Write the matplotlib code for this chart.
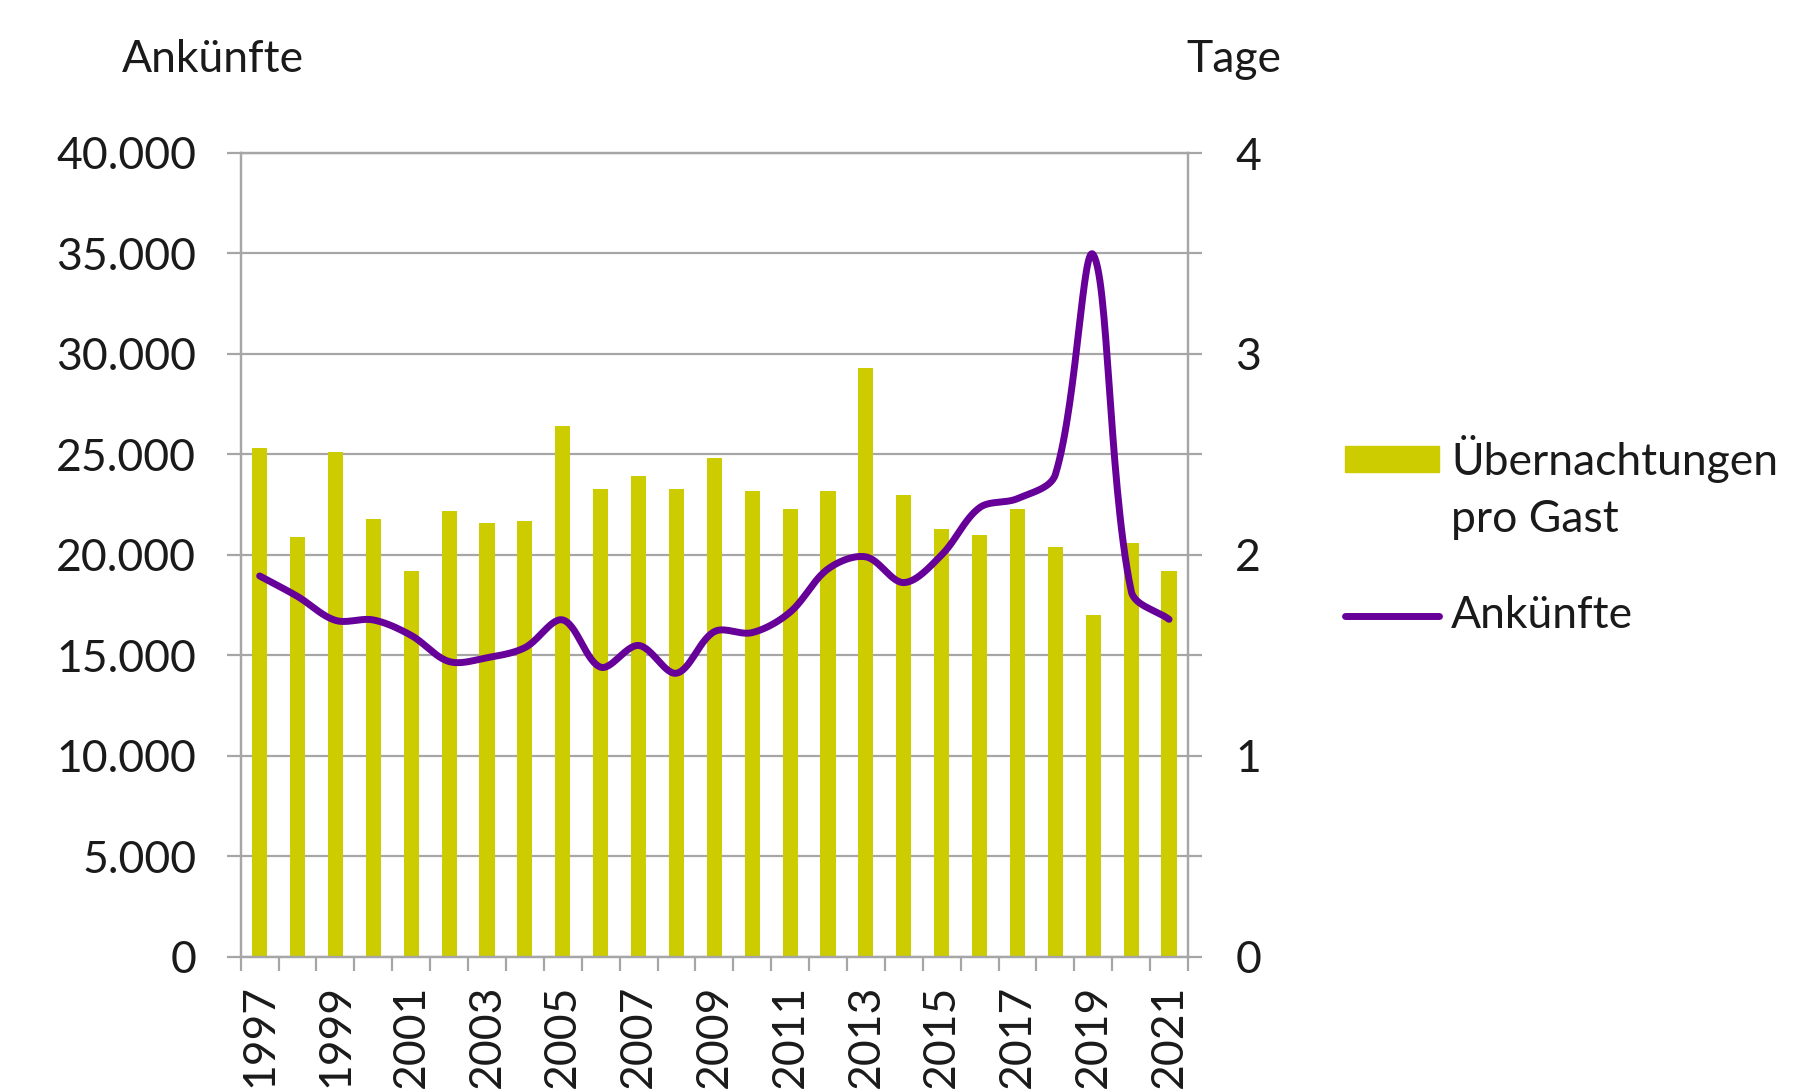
import numpy as np
import matplotlib.pyplot as plt
from matplotlib.patches import Rectangle
from matplotlib.lines import Line2D

plt.rcParams['font.family'] = ['Lato', 'DejaVu Sans']

years = list(range(1997, 2022))
naechte_pro_gast = [2.53, 2.09, 2.51, 2.18, 1.92, 2.22, 2.16, 2.17, 2.64, 2.33,
                    2.39, 2.33, 2.48, 2.32, 2.23, 2.32, 2.93, 2.30, 2.13, 2.10,
                    2.23, 2.04, 1.70, 2.06, 1.92]
ankuenfte = [18950, 17930, 16740, 16760, 15990, 14690, 14880, 15380, 16760, 14410,
             15490, 14110, 16180, 16130, 17150, 19300, 19900, 18620, 20000, 22350,
             22800, 24000, 34940, 18200, 16790]
left_ticks = [0, 5000, 10000, 15000, 20000, 25000, 30000, 35000, 40000]
left_labels = ['0', '5.000', '10.000', '15.000', '20.000', '25.000', '30.000', '35.000', '40.000']

BAR = '#CCCC00'
LINE = '#660099'
GRID = '#A6A6A6'
TXT = '#1a1a1a'
FS = 32


def smooth(x, y, sx, sy, n=30):
    # smoothed line like the office charts: bezier arms scaled by segment length
    pts = np.column_stack([x, y]).astype(float)
    sc = np.array([sx, sy])
    p = np.vstack([pts[0], pts, pts[-1]])
    t = np.linspace(0, 1, n, endpoint=False)[:, None]
    out = []
    for i in range(1, len(p) - 2):
        p0, p1, p2, p3 = p[i - 1], p[i], p[i + 1], p[i + 2]
        d01 = np.hypot(*((p1 - p0) * sc))
        d12 = np.hypot(*((p2 - p1) * sc))
        d23 = np.hypot(*((p3 - p2) * sc))
        f1 = d12 / (d01 + d12) / 3 if d01 + d12 > 0 else 0
        f2 = d12 / (d12 + d23) / 3 if d12 + d23 > 0 else 0
        c1 = p1 + (p2 - p0) * f1
        c2 = p2 - (p3 - p1) * f2
        out.append((1 - t)**3 * p1 + 3 * (1 - t)**2 * t * c1 + 3 * (1 - t) * t**2 * c2 + t**3 * p2)
    out.append(pts[-1:])
    return np.vstack(out)


W, H = 1795, 1092
fig = plt.figure(figsize=(W / 100, H / 100), dpi=100)
l, r, top, bot = 240.7, 1188, 153, 956.7
rect = [l / W, 1 - bot / H, (r - l) / W, (bot - top) / H]

ax = fig.add_axes(rect)
axr = ax.twinx()
ax.set_zorder(axr.get_zorder() + 1)
ax.patch.set_visible(False)

x = np.arange(len(years))
axr.bar(x, naechte_pro_gast, width=0.4, color=BAR, zorder=2)
axr.set_ylim(0, 4)
axr.set_yticks(np.arange(0, 4.01, 0.5))
axr.set_yticklabels(['0', '', '1', '', '2', '', '3', '', '4'])
axr.set_axisbelow(True)
axr.grid(axis='y', color=GRID, lw=1.6)

# pixel scale of one category and of one Ankunft, for the smoothing
sx = (r - l) / len(years)
sy = (bot - top) / 40000
sm = smooth(x, ankuenfte, sx, sy)
ax.plot(sm[:, 0], sm[:, 1], color=LINE, lw=5, solid_capstyle='round', zorder=5)
ax.set_ylim(0, 40000)
ax.set_yticks(left_ticks)
ax.set_yticklabels(left_labels)
ax.set_xlim(-0.5, len(years) - 0.5)
ax.set_xticks(x[::2])
ax.set_xticklabels([str(y) for y in years[::2]], rotation=90)
ax.set_xticks(np.arange(-0.5, len(years), 1), minor=True)

ax.tick_params(axis='x', which='major', length=0, pad=20, labelsize=FS, labelcolor=TXT)
ax.tick_params(axis='x', which='minor', length=10, width=1.6, color=GRID)
ax.tick_params(axis='y', length=10, width=1.6, color=GRID, pad=22, labelsize=FS, labelcolor=TXT)
axr.tick_params(axis='y', length=10, width=1.6, color=GRID, pad=24, labelsize=FS, labelcolor=TXT)

for a in (ax, axr):
    for s in a.spines.values():
        s.set_color(GRID)
        s.set_linewidth(1.6)

fig.text(122 / W, 1 - 60 / H, 'Ankünfte', fontsize=FS, color=TXT, ha='left', va='center')
fig.text(1234 / W, 1 - 60 / H, 'Tage', fontsize=FS, color=TXT, ha='center', va='center')

# legend drawn by hand
fig.patches.append(Rectangle((1345 / W, 1 - 472 / H), 94 / W, 26 / H,
                             transform=fig.transFigure, color=BAR))
fig.lines.append(Line2D([1345 / W, 1439 / W], [1 - 616 / H, 1 - 616 / H],
                        transform=fig.transFigure, color=LINE, lw=5, solid_capstyle='round'))
fig.text(1451 / W, 1 - 459 / H, 'Übernachtungen', fontsize=FS, color=TXT, ha='left', va='center')
fig.text(1451 / W, 1 - 520 / H, 'pro Gast', fontsize=FS, color=TXT, ha='left', va='center')
fig.text(1451 / W, 1 - 616 / H, 'Ankünfte', fontsize=FS, color=TXT, ha='left', va='center')

fig.savefig('out.png', dpi=100)
